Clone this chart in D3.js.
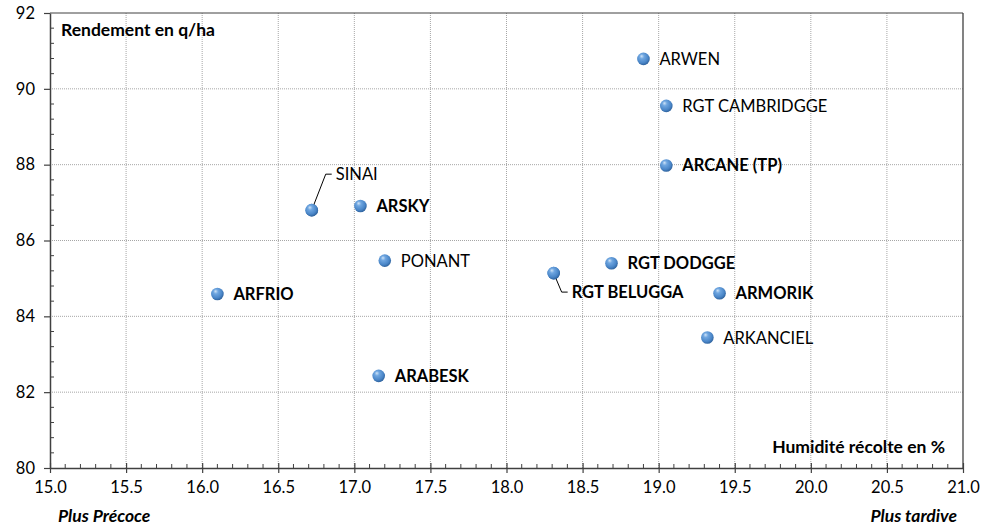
<!DOCTYPE html>
<html>
<head>
<meta charset="utf-8">
<script src="https://d3js.org/d3.v7.min.js"></script>
<title>Rendement / Humidité</title>
<style>
  body { margin: 0; background: #fff; }
  text { font-family: Lato, "Open Sans", sans-serif; fill: #000; }
</style>
</head>
<body>
<div id="chart"></div>
<script>
// varieties : humidite (%) / rendement (q/ha)
var varieties = ['ARWEN', 'RGT CAMBRIDGGE', 'ARCANE (TP)', 'SINAI', 'ARSKY', 'PONANT', 'ARFRIO',
                 'RGT BELUGGA', 'RGT DODGGE', 'ARMORIK', 'ARKANCIEL', 'ARABESK'];
var humidite  = [18.90, 19.05, 19.05, 16.72, 17.04, 17.20, 16.10, 18.31, 18.69, 19.40, 19.32, 17.16];
var rendement = [90.79, 89.55, 87.98, 86.80, 86.91, 85.47, 84.59, 85.14, 85.40, 84.61, 83.44, 82.43];
var xTicks = [15.0, 15.5, 16.0, 16.5, 17.0, 17.5, 18.0, 18.5, 19.0, 19.5, 20.0, 20.5, 21.0];
var yTicks = [80, 82, 84, 86, 88, 90, 92];

var width = 985, height = 532;
var margin = {top: 13, right: 22, bottom: 64, left: 50};

var svg = d3.select('#chart').append('svg').attr('width', width).attr('height', height);

var x = d3.scaleLinear().domain([15, 21]).range([margin.left, width - margin.right]);
var y = d3.scaleLinear().domain([80, 92]).range([height - margin.bottom, margin.top]);

// sphere look for the markers
var defs = svg.append('defs');
var grad = defs.append('radialGradient').attr('id', 'ball')
  .attr('cx', '42%').attr('cy', '38%').attr('r', '62%').attr('fx', '35%').attr('fy', '28%');
grad.append('stop').attr('offset', '0%').attr('stop-color', '#cfe3f7');
grad.append('stop').attr('offset', '30%').attr('stop-color', '#6fa6e0');
grad.append('stop').attr('offset', '75%').attr('stop-color', '#4a86c8');
grad.append('stop').attr('offset', '100%').attr('stop-color', '#30649f');

// grid
svg.append('g').selectAll('line').data(xTicks.slice(1, -1)).enter().append('line')
  .attr('x1', d => x(d)).attr('x2', d => x(d))
  .attr('y1', y(80)).attr('y2', y(92))
  .attr('stroke', '#a6a6a6').attr('stroke-width', 1).attr('stroke-dasharray', '1,1');
svg.append('g').selectAll('line').data(yTicks.slice(1, -1)).enter().append('line')
  .attr('y1', d => y(d)).attr('y2', d => y(d))
  .attr('x1', x(15)).attr('x2', x(21))
  .attr('stroke', '#a6a6a6').attr('stroke-width', 1).attr('stroke-dasharray', '1,1');

// frame top/right
svg.append('line').attr('x1', x(15)).attr('x2', x(21)).attr('y1', y(92)).attr('y2', y(92))
  .attr('stroke', '#404040').attr('stroke-width', 1);
svg.append('line').attr('x1', x(21)).attr('x2', x(21)).attr('y1', y(92)).attr('y2', y(80))
  .attr('stroke', '#404040').attr('stroke-width', 1.3);

// minor ticks
var xMinor = d3.range(150, 211).map(d => d / 10).filter(d => Math.round(d * 10) % 5 !== 0);
var yMinor = d3.range(200, 231).map(d => d / 2.5).filter(d => Math.round(d * 10) % 20 !== 0);
svg.append('g').selectAll('line').data(xMinor).enter().append('line')
  .attr('x1', d => x(d)).attr('x2', d => x(d)).attr('y1', y(80)).attr('y2', y(80) - 4)
  .attr('stroke', '#404040');
svg.append('g').selectAll('line').data(yMinor).enter().append('line')
  .attr('y1', d => y(d)).attr('y2', d => y(d)).attr('x1', x(15)).attr('x2', x(15) + 4)
  .attr('stroke', '#404040');

// axes
var xAxis = svg.append('g').attr('transform', 'translate(0,' + y(80) + ')')
  .call(d3.axisBottom(x).tickValues(xTicks).tickFormat(d3.format('.1f')).tickSizeInner(5).tickSizeOuter(0).tickPadding(8));
var yAxis = svg.append('g').attr('transform', 'translate(' + x(15) + ',0)')
  .call(d3.axisLeft(y).tickValues(yTicks).tickFormat(d3.format('d')).tickSizeInner(6).tickSizeOuter(0).tickPadding(9));
[xAxis, yAxis].forEach(function(g) {
  g.select('.domain').attr('stroke', '#404040').attr('stroke-width', 1.5);
  g.selectAll('.tick line').attr('stroke', '#404040').attr('stroke-width', 1.2);
  g.selectAll('.tick text').attr('font-family', 'Lato, sans-serif').attr('font-size', 16.5).attr('fill', '#000');
});
xAxis.selectAll('.tick line').attr('y1', -5);

// points
var pts = varieties.map((v, i) => ({name: v, hx: humidite[i], ry: rendement[i]}));
svg.append('g').selectAll('circle').data(pts).enter().append('circle')
  .attr('cx', d => x(d.hx)).attr('cy', d => y(d.ry)).attr('r', 6.3)
  .attr('fill', 'url(#ball)');

// labels
var bold = ['ARCANE (TP)', 'ARSKY', 'ARFRIO', 'RGT BELUGGA', 'RGT DODGGE', 'ARMORIK', 'ARABESK'];
var moved = {
  'SINAI': {dx: 24, dy: -36},
  'RGT BELUGGA': {dx: 18, dy: 19}
};
var lab = svg.append('g');
pts.forEach(function(d) {
  var px = x(d.hx), py = y(d.ry);
  var m = moved[d.name];
  var tx = px + 16, ty = py;
  if (m) {
    tx = px + m.dx; ty = py + m.dy;
    lab.append('path')
      .attr('d', 'M' + px + ',' + py + 'L' + (tx - 10) + ',' + ty + 'L' + (tx - 4) + ',' + ty)
      .attr('fill', 'none').attr('stroke', '#000').attr('stroke-width', 1);
  }
  lab.append('text').attr('x', tx).attr('y', ty).attr('dy', '0.36em')
    .attr('font-size', 16.5)
    .attr('font-weight', bold.indexOf(d.name) >= 0 ? 'bold' : 'normal')
    .text(d.name);
});
// redraw markers above leader lines
svg.append('g').selectAll('circle').data(pts.filter(d => moved[d.name])).enter().append('circle')
  .attr('cx', d => x(d.hx)).attr('cy', d => y(d.ry)).attr('r', 6.3)
  .attr('fill', 'url(#ball)');

// axis titles
svg.append('text').attr('x', 61).attr('y', 36).attr('font-size', 17.5).attr('font-weight', 'bold')
  .text('Rendement en q/ha');
svg.append('text').attr('x', 945).attr('y', 453).attr('font-size', 17.5).attr('font-weight', 'bold')
  .attr('text-anchor', 'end').text('Humidité récolte en %');
svg.append('text').attr('x', 58).attr('y', 522).attr('font-size', 17.5).attr('font-weight', 'bold')
  .attr('font-style', 'italic').text('Plus Précoce');
svg.append('text').attr('x', 957).attr('y', 522).attr('font-size', 17.5).attr('font-weight', 'bold')
  .attr('font-style', 'italic').attr('text-anchor', 'end').text('Plus tardive');
</script>
</body>
</html>
